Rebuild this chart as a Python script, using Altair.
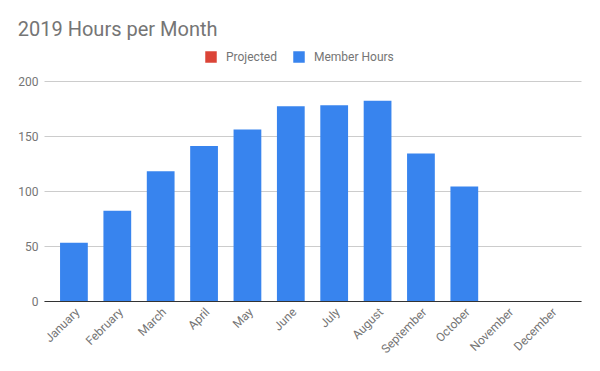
import altair as alt
import pandas as pd

months = ["January", "February", "March", "April", "May", "June", "July",
          "August", "September", "October", "November", "December"]
member_hours = [53, 82, 118, 141, 156, 177, 178, 182, 134, 104, None, None]
projected = [0, 0, 0, 0, 0, 0, 0, 0, 0, 0, 0, 0]
series = ["Projected", "Member Hours"]
colors = ["#DB4437", "#3884EE"]
y_ticks = [0, 50, 100, 150, 200]

rows = []
for i, m in enumerate(months):
    rows.append({"Month": m, "Series": "Projected", "Hours": projected[i], "order": 1})
    rows.append({"Month": m, "Series": "Member Hours", "Hours": member_hours[i], "order": 0})
df = pd.DataFrame(rows)

chart = alt.Chart(df).mark_bar(strokeWidth=0).encode(
    x=alt.X("Month:N", sort=months, title=None,
            scale=alt.Scale(paddingInner=0.36, paddingOuter=0.37),
            axis=alt.Axis(labelAngle=-45, labelAlign="right", labelBaseline="top",
                          labelFont="Roboto", labelFontSize=12, labelColor="#757575",
                          labelPadding=5, ticks=False, domainColor="#333333",
                          domainWidth=1, zindex=1, grid=False)),
    y=alt.Y("Hours:Q", stack="zero", title=None,
            scale=alt.Scale(domain=[0, 200], nice=False),
            axis=alt.Axis(values=y_ticks, labelFont="Roboto", labelFontSize=12,
                          labelColor="#757575", labelPadding=6, ticks=False,
                          domain=False, gridColor="#CCCCCC", gridWidth=1)),
    color=alt.Color("Series:N", scale=alt.Scale(domain=series, range=colors),
                    legend=alt.Legend(orient="none", legendX=161, legendY=-30,
                                      direction="horizontal", title=None,
                                      symbolType="square", symbolSize=132,
                                      symbolStrokeWidth=0, symbolOpacity=1,
                                      labelFont="Roboto", labelFontSize=12,
                                      labelColor="#757575", labelOffset=9,
                                      columnPadding=16, padding=0)),
    order=alt.Order("order:Q"),
).properties(
    width=537,
    height=220,
    autosize=alt.AutoSizeParams(type="none"),
    padding={"left": 36, "top": 73, "right": 11, "bottom": 62},
    title=alt.TitleParams("2019 Hours per Month", anchor="start", font="Roboto",
                          fontSize=20, fontWeight="normal", color="#757575",
                          offset=11),
).configure_view(stroke=None)

chart.save("out.html", embed_options={"renderer": "svg", "actions": False})
